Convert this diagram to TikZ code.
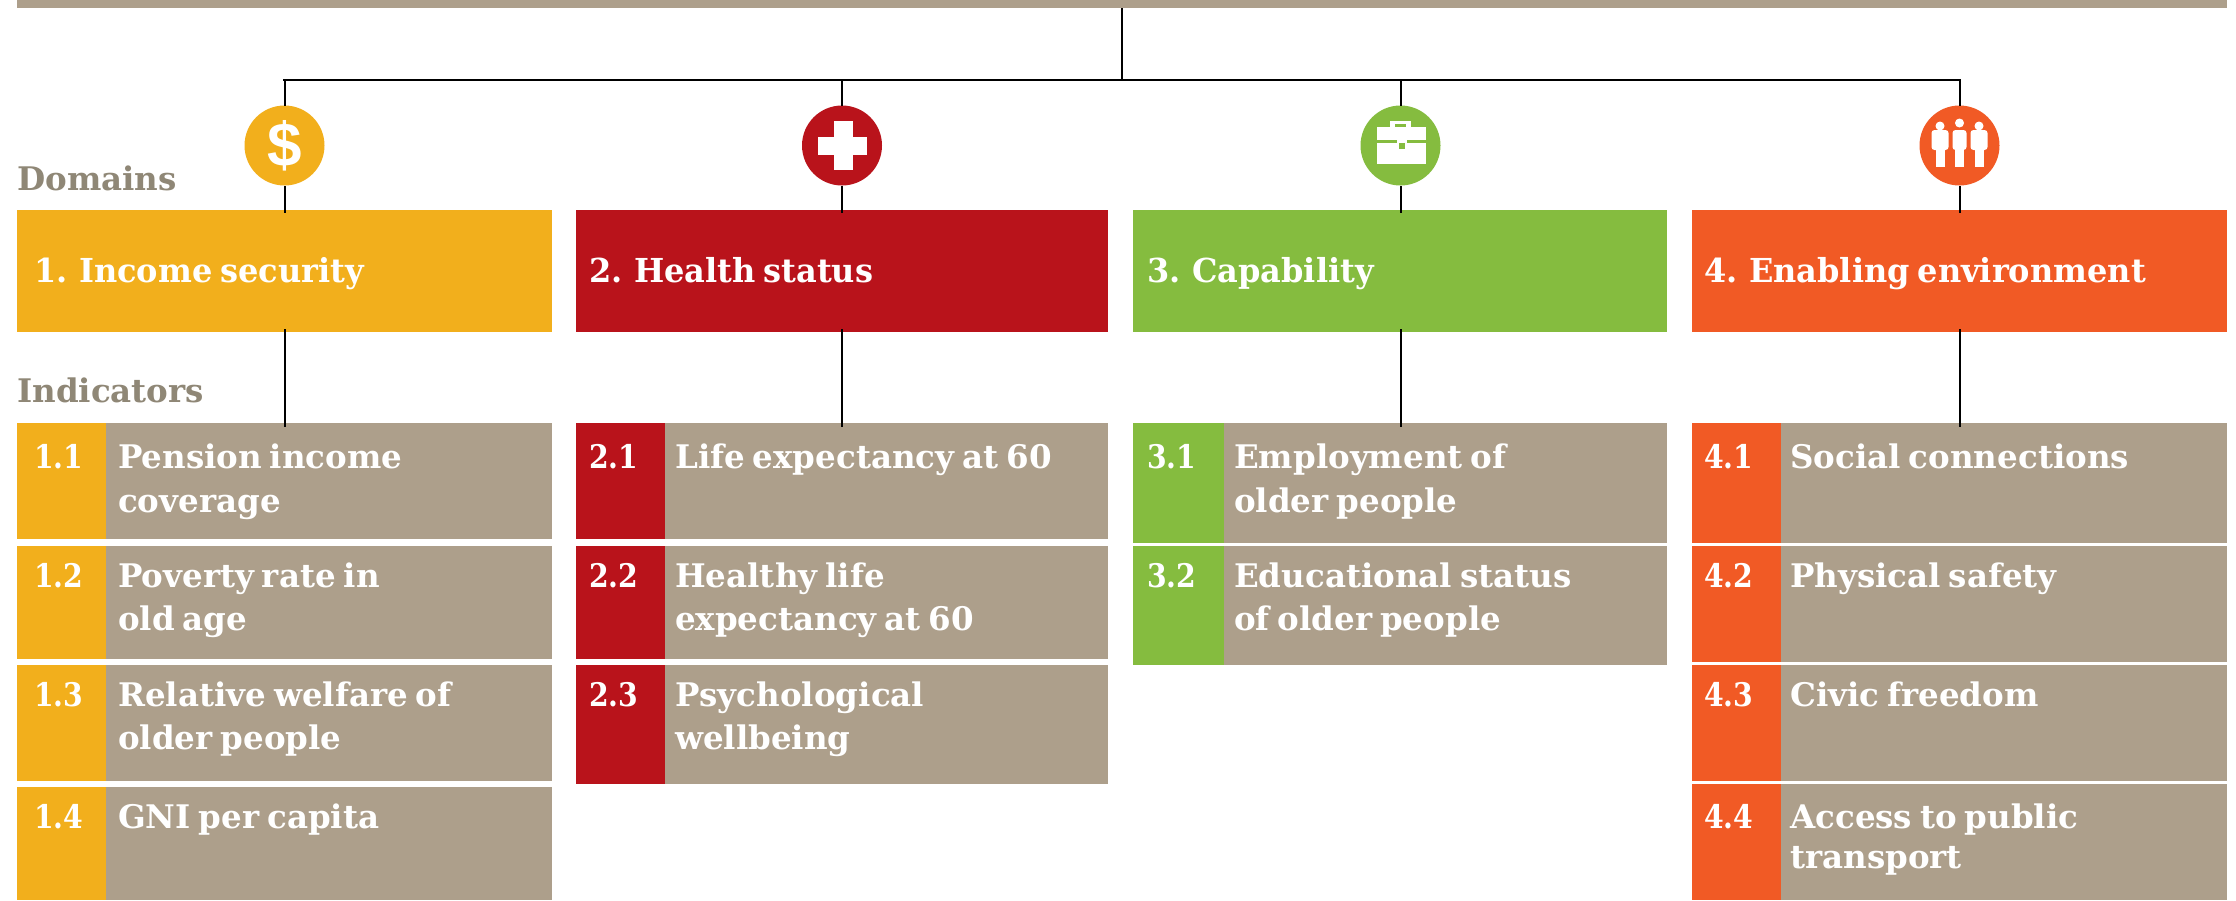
\documentclass[tikz,border=0pt]{standalone}
\usepackage{fontspec}
\newfontfamily\slab[FakeStretch=1.0,WordSpace=0.7]{DejaVu Serif Bold}
\newfontfamily\slabdom[FakeStretch=0.97,WordSpace=0.7]{DejaVu Serif Bold}
\newfontfamily\slabnum[FakeStretch=0.87]{DejaVu Serif Bold}
\newfontfamily\dollarfont{Liberation Sans Bold}
\definecolor{cgold}{HTML}{F2AF1C}
\definecolor{cred}{HTML}{B9131B}
\definecolor{cgreen}{HTML}{85BC3F}
\definecolor{corange}{HTML}{F15A25}
\definecolor{ctan}{HTML}{AD9F8B}
\definecolor{cgrey}{HTML}{8F8776}
\tikzset{
  block/.style={anchor=north west,inner sep=0pt,outer sep=0pt,line width=0pt,draw=none},
  iconback/.style={circle,inner sep=0pt,outer sep=0pt,minimum size=80pt},
  domtext/.style={anchor=base west,inner sep=0pt,text=white,font=\slabdom\fontsize{33}{33}\selectfont},
  itemtext/.style={anchor=base west,inner sep=0pt,text=white,font=\slab\fontsize{32.5}{32.5}\selectfont},
  numtext/.style={anchor=base west,inner sep=0pt,text=white,font=\slabnum\fontsize{32.5}{32.5}\selectfont},
  sidetext/.style={anchor=base west,inner sep=0pt,text=cgrey,font=\slab\fontsize{32.5}{32.5}\selectfont},
  wire/.style={draw=black,line width=2pt},
  mainwire/.style={draw=black,line width=2.8pt},
  glyph/.style={fill=white,draw=none}
}
% id, colour, x0, xsplit, x1, ytop, ybottom, number, baseline offset
\newcommand{\indic}[9]{%
  \node[block,fill=#2,minimum width={(#4-#3)*1pt},minimum height={(#7-#6)*1pt}] (#1n) at (#3,#6) {};
  \node[block,fill=ctan,minimum width={(#5-#4)*1pt},minimum height={(#7-#6)*1pt}] (#1) at (#4,#6) {};
  \node[numtext] (#1num) at (#3+\numpad,#6+#9) {#8};
}
\begin{document}
\begin{tikzpicture}[x=1pt,y=-1pt]
\useasboundingbox (0,0) rectangle (2236,900);
\fill[white] (0,0) rectangle (2236,900);

\node[block,fill=ctan,minimum width=2210pt,minimum height=8pt] (topbar) at (17,0) {};
\coordinate (hub) at (1122,80);

% Domains
\node[block,fill=cgold,minimum width=535pt,minimum height=122pt] (dom1) at (17,210) {};
\node[block,fill=cred,minimum width=532pt,minimum height=122pt] (dom2) at (576,210) {};
\node[block,fill=cgreen,minimum width=534pt,minimum height=122pt] (dom3) at (1133,210) {};
\node[block,fill=corange,minimum width=535pt,minimum height=122pt] (dom4) at (1692,210) {};
\node[domtext] (dt1) at (34,282) {1. Income security};
\node[domtext] (dt2) at (589,282) {2. Health status};
\node[domtext] (dt3) at (1147,282) {3. Capability};
\node[domtext] (dt4) at (1704,282) {4. Enabling environment};

\node[sidetext] (lab1) at (17,190) {Domains};
\node[sidetext] (lab2) at (17,402) {Indicators};

% Icon discs
\node[iconback,fill=cgold] (ic1) at (284.5,145.5) {};
\node[iconback,fill=cred] (ic2) at (842,145.5) {};
\node[iconback,fill=cgreen] (ic3) at (1400.5,145.5) {};
\node[iconback,fill=corange] (ic4) at (1959.5,145.5) {};

% Indicators, column 1
\def\numpad{17}
\indic{a1}{cgold}{17}{106}{552}{423}{539}{1.1}{45}
\indic{a2}{cgold}{17}{106}{552}{546}{659}{1.2}{41}
\indic{a3}{cgold}{17}{106}{552}{665}{781}{1.3}{41}
\indic{a4}{cgold}{17}{106}{552}{787}{900}{1.4}{41}
% column 2
\def\numpad{13}
\indic{b1}{cred}{576}{665}{1108}{423}{539}{2.1}{45}
\indic{b2}{cred}{576}{665}{1108}{546}{659}{2.2}{41}
\indic{b3}{cred}{576}{665}{1108}{665}{784}{2.3}{41}
% column 3
\def\numpad{14}
\indic{c1}{cgreen}{1133}{1224}{1667}{423}{543}{3.1}{45}
\indic{c2}{cgreen}{1133}{1224}{1667}{546}{665}{3.2}{41}
% column 4
\def\numpad{12}
\indic{d1}{corange}{1692}{1781}{2227}{423}{543}{4.1}{45}
\indic{d2}{corange}{1692}{1781}{2227}{546}{662}{4.2}{41}
\indic{d3}{corange}{1692}{1781}{2227}{665}{781}{4.3}{41}
\indic{d4}{corange}{1692}{1781}{2227}{784}{900}{4.4}{44}

\node[itemtext] (ta1) at (118,468) {Pension income};
\node[itemtext] (ta1b) at (118,512) {coverage};
\node[itemtext] (ta2) at (118,587) {Poverty rate in};
\node[itemtext] (ta2b) at (118,630) {old age};
\node[itemtext] (ta3) at (118,706) {Relative welfare of};
\node[itemtext] (ta3b) at (118,749) {older people};
\node[itemtext] (ta4) at (118,828) {GNI per capita};

\node[itemtext] (tb1) at (675,468) {Life expectancy at 60};
\node[itemtext] (tb2) at (675,587) {Healthy life};
\node[itemtext] (tb2b) at (675,630) {expectancy at 60};
\node[itemtext] (tb3) at (675,706) {Psychological};
\node[itemtext] (tb3b) at (675,749) {wellbeing};

\node[itemtext] (tc1) at (1234,468) {Employment of};
\node[itemtext] (tc1b) at (1234,512) {older people};
\node[itemtext] (tc2) at (1234,587) {Educational status};
\node[itemtext] (tc2b) at (1234,630) {of older people};

\node[itemtext] (td1) at (1790,468) {Social connections};
\node[itemtext] (td2) at (1790,587) {Physical safety};
\node[itemtext] (td3) at (1790,706) {Civic freedom};
\node[itemtext] (td4) at (1790,828) {Access to public};
\node[itemtext] (td4b) at (1790,868) {transport};

% Connectors
\draw[mainwire] (topbar.south) -- (hub);
\draw[mainwire,line cap=rect] (ic1.north |- hub) -- (ic4.north |- hub);
\foreach \k/\it in {1/a1,2/b1,3/c1,4/d1}{
  \draw[wire] (ic\k.north |- hub) -- (ic\k.north);
  \draw[wire,shorten >=-3pt] (ic\k.south) -- (ic\k.south |- dom\k.north);
  \draw[wire,shorten <=-3pt,shorten >=-4pt] (ic\k.south |- dom\k.south) -- (ic\k.south |- \it.north);
}

% Icon glyphs
\node[inner sep=0pt,text=white,font=\dollarfont\fontsize{62}{62}\selectfont] (dollar) at (284.5,145.5) {\$};

\fill[glyph] (833.5,121) rectangle (852.5,170);
\fill[glyph] (818,136.5) rectangle (867,154.5);

\fill[glyph] (1390,121) rectangle (1411,128) ;
\fill[cgreen] (1395,124) rectangle (1406,128);
\fill[glyph] (1377,127) rectangle (1426,140);
\fill[glyph] (1377,143) rectangle (1426,164);
\fill[glyph] (1397,140) rectangle (1407,150);
\fill[cgreen] (1399,143) rectangle (1405,149);

\foreach \px/\py/\bw in {1940/122/17,1959.5/119/14,1979/122/17}{
  \fill[glyph] (\px,\py+4) circle (4.5pt);
  \fill[glyph,rounded corners=3pt] (\px-\bw/2,130) rectangle (\px+\bw/2,150);
  \fill[glyph] (\px-4.5,146) rectangle (\px+4.5,167);
}
\end{tikzpicture}
\end{document}
